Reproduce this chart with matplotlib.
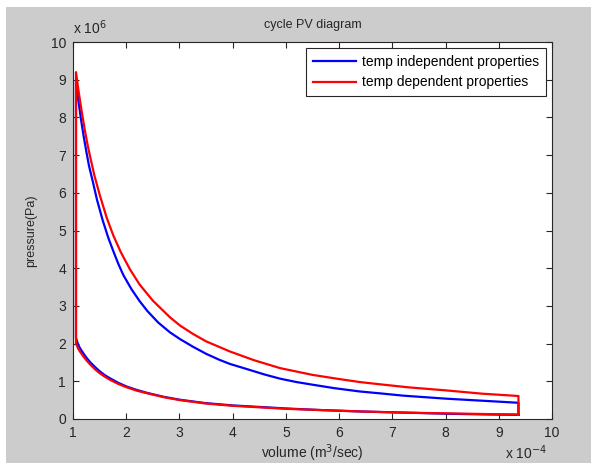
import matplotlib
matplotlib.use("Agg")
import matplotlib.pyplot as plt
from matplotlib.patches import Rectangle

plt.rcParams['font.family'] = ['Liberation Sans', 'DejaVu Sans']

# volume in units of 1e-4 m^3, pressure in units of 1e6 Pa
# compression stroke (right -> left)
cmp_v = [9.37, 8.8, 8.0, 7.2, 6.39, 5.6, 5.0, 4.5, 4.0, 3.5, 3.01, 2.7, 2.4, 2.2, 2.01,
         1.85, 1.695, 1.6, 1.507, 1.42, 1.32, 1.25, 1.19, 1.14, 1.10, 1.056]
blue_cmp_p = [0.11, 0.12, 0.14, 0.17, 0.20, 0.24, 0.28, 0.32, 0.36, 0.42, 0.51, 0.59, 0.69, 0.77, 0.86,
              0.96, 1.08, 1.16, 1.26, 1.37, 1.51, 1.63, 1.75, 1.86, 1.96, 2.15]
red_cmp_p = [0.12, 0.13, 0.15, 0.17, 0.20, 0.24, 0.27, 0.31, 0.35, 0.41, 0.50, 0.58, 0.68, 0.75, 0.84,
             0.93, 1.04, 1.12, 1.21, 1.31, 1.45, 1.56, 1.67, 1.77, 1.86, 2.00]

# expansion stroke (left -> right)
blue_exp_v = [1.056, 1.10, 1.15, 1.20, 1.25, 1.30, 1.38, 1.45, 1.558, 1.66, 1.75, 1.85, 1.945, 2.1,
              2.25, 2.4, 2.6, 2.82, 3.01, 3.25, 3.5, 3.75, 3.95, 4.3, 4.6, 4.89, 5.2, 5.5, 5.9,
              6.39, 6.77, 7.2, 7.6, 8.0, 8.5, 9.0, 9.37]
blue_exp_p = [8.95, 8.46, 7.95, 7.5, 7.1, 6.72, 6.25, 5.82, 5.27, 4.82, 4.48, 4.12, 3.82, 3.44,
              3.13, 2.86, 2.56, 2.3, 2.12, 1.92, 1.73, 1.57, 1.46, 1.31, 1.18, 1.07, 0.98, 0.91, 0.82,
              0.73, 0.68, 0.62, 0.58, 0.54, 0.50, 0.46, 0.43]
red_exp_v = [1.056, 1.10, 1.163, 1.22, 1.27, 1.32, 1.40, 1.507, 1.633, 1.757, 1.9, 2.07, 2.25, 2.5,
             2.82, 3.01, 3.25, 3.5, 3.95, 4.4, 4.89, 5.5, 6.0, 6.39, 6.77, 7.3, 8.0, 8.7, 9.37]
red_exp_p = [9.2, 8.74, 8.16, 7.68, 7.3, 6.97, 6.47, 5.92, 5.34, 4.87, 4.42, 3.97, 3.57, 3.14,
             2.7, 2.48, 2.26, 2.06, 1.79, 1.56, 1.35, 1.17, 1.06, 0.98, 0.92, 0.84, 0.76, 0.67, 0.61]

labels = ['temp independent properties', 'temp dependent properties']


def cycle(cv, cp, ev, ep):
    # compression, combustion (vertical), expansion, exhaust (vertical) -> closed loop
    v = list(cv) + list(ev) + [cv[0]]
    p = list(cp) + list(ep) + [cp[0]]
    return v, p


fig = plt.figure(figsize=(5.91, 4.63), dpi=100, facecolor='white')
fig.patches.append(Rectangle((6 / 591, 0), 585 / 591, 456 / 463,
                             transform=fig.transFigure, facecolor='#cccccc',
                             edgecolor='none', zorder=-10))
ax = fig.add_axes([73 / 591, 44 / 463, 479 / 591, 377 / 463])

bv, bp = cycle(cmp_v, blue_cmp_p, blue_exp_v, blue_exp_p)
rv, rp = cycle(cmp_v, red_cmp_p, red_exp_v, red_exp_p)
ax.plot(bv, bp, color='#0000ff', lw=1.6, label=labels[0])
ax.plot(rv, rp, color='#ff0000', lw=1.6, label=labels[1])

ax.set_xlim(1, 10)
ax.set_ylim(0, 10)
ax.set_xticks(range(1, 11))
ax.set_yticks(range(0, 11))
ax.tick_params(direction='in', top=True, right=True, length=4, labelsize=10,
               colors='#262626', pad=5)
for s in ax.spines.values():
    s.set_color('#262626')
    s.set_linewidth(0.8)

ax.set_title('cycle PV diagram', fontsize=9, color='#262626', pad=10)
ax.set_xlabel('volume (m$^3$/sec)', fontsize=10, color='#262626', labelpad=2)
ax.set_ylabel('pressure(Pa)', fontsize=9, color='#262626', labelpad=10)
ax.text(0.0, 1.012, r'x 10$^6$', transform=ax.transAxes, fontsize=10,
        color='#262626', ha='left', va='bottom')
ax.text(0.99, -0.105, r'x 10$^{-4}$', transform=ax.transAxes, fontsize=10,
        color='#262626', ha='right', va='baseline')

leg = ax.legend(loc='upper right', fontsize=10, fancybox=False, framealpha=1,
                edgecolor='#262626', borderaxespad=0.45, handlelength=3.1,
                handletextpad=0.4, labelspacing=0.45, borderpad=0.5)
leg.get_frame().set_linewidth(0.8)

fig.savefig('out.png', dpi=100, facecolor=fig.get_facecolor())
